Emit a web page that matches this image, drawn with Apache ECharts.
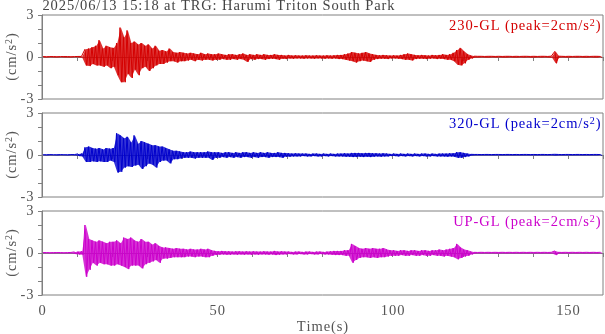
<!DOCTYPE html>
<html>
<head>
<meta charset="utf-8">
<script src="https://cdn.jsdelivr.net/npm/echarts@6/dist/echarts.min.js"></script>
<style>
  html, body { margin: 0; padding: 0; background: #fff; }
  #div_chart { width: 605px; height: 334px; }
</style>
</head>
<body>
<div id="div_chart"></div>
<script>
"use strict";

// envelope: per 1 s bin (t = 0..159), max and min in cm/s^2
const title_text = "2025/06/13 15:18 at TRG: Harumi Triton South Park";
const channel_names = ["230-GL", "320-GL", "UP-GL"];
const channel_peaks = [2, 2, 2];
const x_tick_labels = [0, 50, 100, 150];
const y_tick_labels = [-3, 0, 3];

const red_up = [
  0.03, 0.02, 0.03, 0.03, 0.02, 0.03, 0.03, 0.03, 0.02, 0.03,
  0.04, 0.04, 0.55, 0.6, 0.7, 0.8, 1.2, 0.6, 0.8, 0.7,
  0.65, 1.0, 2.1, 1.4, 1.9, 1.0, 1.1, 0.9, 1.0, 0.8,
  0.9, 0.6, 0.8, 0.45, 0.5, 0.4, 0.6, 0.35, 0.3, 0.35,
  0.3, 0.25, 0.3, 0.25, 0.2, 0.3, 0.2, 0.25, 0.2, 0.2,
  0.25, 0.2, 0.15, 0.2, 0.2, 0.15, 0.2, 0.25, 0.15, 0.2,
  0.15, 0.2, 0.15, 0.2, 0.15, 0.15, 0.2, 0.15, 0.15, 0.1,
  0.15, 0.1, 0.12, 0.1, 0.1, 0.12, 0.1, 0.1, 0.12, 0.1,
  0.1, 0.12, 0.1, 0.12, 0.15, 0.15, 0.2, 0.25, 0.35, 0.3,
  0.25, 0.3, 0.35, 0.25, 0.2, 0.15, 0.12, 0.15, 0.12, 0.1,
  0.12, 0.1, 0.15, 0.2, 0.25, 0.2, 0.15, 0.12, 0.15, 0.12,
  0.1, 0.15, 0.12, 0.15, 0.2, 0.15, 0.2, 0.3, 0.5, 0.65,
  0.4, 0.2, 0.1, 0.06, 0.05, 0.05, 0.04, 0.05, 0.05, 0.04,
  0.05, 0.04, 0.05, 0.05, 0.04, 0.05, 0.04, 0.05, 0.05, 0.04,
  0.05, 0.04, 0.05, 0.05, 0.04, 0.06, 0.4, 0.06, 0.05, 0.04,
  0.05, 0.04, 0.05, 0.05, 0.04, 0.05, 0.04, 0.05, 0.05, 0.04
];
const red_lo = [
  -0.03, -0.03, -0.02, -0.03, -0.03, -0.02, -0.03, -0.03, -0.03, -0.02,
  -0.04, -0.05, -0.6, -0.65, -0.5, -0.6, -0.6, -0.7, -0.6, -0.8,
  -0.7, -1.3, -1.8, -1.8, -1.2, -1.5, -0.9, -1.3, -0.8, -0.7,
  -1.0, -0.8, -0.6, -0.5, -0.5, -0.4, -0.3, -0.3, -0.4, -0.3,
  -0.3, -0.25, -0.2, -0.3, -0.2, -0.25, -0.2, -0.2, -0.25, -0.2,
  -0.2, -0.15, -0.2, -0.2, -0.15, -0.2, -0.15, -0.2, -0.35, -0.15,
  -0.2, -0.15, -0.15, -0.2, -0.15, -0.12, -0.15, -0.2, -0.12, -0.15,
  -0.1, -0.12, -0.1, -0.1, -0.12, -0.1, -0.1, -0.12, -0.1, -0.1,
  -0.12, -0.1, -0.12, -0.1, -0.15, -0.15, -0.2, -0.25, -0.3, -0.4,
  -0.3, -0.25, -0.3, -0.35, -0.2, -0.15, -0.12, -0.12, -0.15, -0.1,
  -0.1, -0.12, -0.15, -0.2, -0.2, -0.25, -0.15, -0.12, -0.12, -0.15,
  -0.12, -0.1, -0.15, -0.12, -0.15, -0.2, -0.2, -0.3, -0.55, -0.6,
  -0.45, -0.2, -0.1, -0.05, -0.05, -0.04, -0.05, -0.05, -0.04, -0.05,
  -0.04, -0.05, -0.05, -0.04, -0.05, -0.05, -0.04, -0.05, -0.04, -0.05,
  -0.05, -0.04, -0.05, -0.04, -0.05, -0.05, -0.45, -0.05, -0.04, -0.05,
  -0.05, -0.04, -0.05, -0.04, -0.05, -0.05, -0.04, -0.05, -0.05, -0.04
];

const blue_up = [
  0.02, 0.02, 0.03, 0.02, 0.02, 0.03, 0.02, 0.02, 0.03, 0.03,
  0.08, 0.1, 0.55, 0.6, 0.5, 0.45, 0.5, 0.4, 0.5, 0.45,
  0.5, 1.55, 1.4, 1.2, 1.3, 0.9, 1.4, 0.8, 1.0, 0.9,
  0.8, 0.7, 0.7, 0.6, 0.6, 0.5, 0.4, 0.3, 0.3, 0.25,
  0.2, 0.2, 0.25, 0.2, 0.2, 0.2, 0.2, 0.25, 0.2, 0.2,
  0.2, 0.15, 0.2, 0.2, 0.15, 0.2, 0.15, 0.2, 0.2, 0.15,
  0.2, 0.15, 0.2, 0.15, 0.2, 0.15, 0.15, 0.2, 0.15, 0.15,
  0.12, 0.1, 0.12, 0.1, 0.1, 0.1, 0.08, 0.1, 0.1, 0.08,
  0.1, 0.08, 0.1, 0.08, 0.1, 0.1, 0.12, 0.1, 0.15, 0.15,
  0.15, 0.12, 0.15, 0.15, 0.12, 0.12, 0.1, 0.12, 0.1, 0.08,
  0.1, 0.08, 0.1, 0.08, 0.1, 0.08, 0.1, 0.08, 0.1, 0.1,
  0.08, 0.1, 0.08, 0.1, 0.1, 0.1, 0.12, 0.12, 0.2, 0.2,
  0.15, 0.1, 0.05, 0.04, 0.04, 0.03, 0.04, 0.04, 0.03, 0.04,
  0.04, 0.03, 0.04, 0.04, 0.03, 0.04, 0.03, 0.04, 0.04, 0.03,
  0.04, 0.03, 0.04, 0.04, 0.03, 0.04, 0.05, 0.04, 0.03, 0.04,
  0.04, 0.03, 0.04, 0.04, 0.03, 0.04, 0.03, 0.04, 0.04, 0.03
];
const blue_lo = [
  -0.02, -0.03, -0.02, -0.02, -0.03, -0.02, -0.02, -0.03, -0.02, -0.03,
  -0.08, -0.1, -0.5, -0.5, -0.45, -0.5, -0.45, -0.5, -0.5, -0.4,
  -0.5, -1.25, -1.2, -0.9, -0.8, -0.85, -0.75, -0.7, -1.0, -0.8,
  -0.6, -0.7, -0.9, -0.5, -0.4, -0.4, -0.6, -0.3, -0.3, -0.25,
  -0.2, -0.2, -0.2, -0.25, -0.2, -0.2, -0.2, -0.2, -0.35, -0.2,
  -0.2, -0.15, -0.2, -0.15, -0.2, -0.15, -0.2, -0.15, -0.15, -0.2,
  -0.15, -0.2, -0.15, -0.15, -0.2, -0.15, -0.15, -0.15, -0.2, -0.12,
  -0.12, -0.1, -0.1, -0.1, -0.08, -0.1, -0.1, -0.08, -0.1, -0.1,
  -0.08, -0.1, -0.08, -0.1, -0.1, -0.1, -0.12, -0.12, -0.15, -0.15,
  -0.12, -0.15, -0.12, -0.15, -0.12, -0.1, -0.12, -0.1, -0.1, -0.08,
  -0.08, -0.1, -0.08, -0.1, -0.08, -0.1, -0.08, -0.1, -0.08, -0.1,
  -0.1, -0.08, -0.1, -0.1, -0.1, -0.12, -0.1, -0.12, -0.2, -0.2,
  -0.15, -0.1, -0.05, -0.04, -0.04, -0.03, -0.04, -0.04, -0.03, -0.04,
  -0.03, -0.04, -0.04, -0.03, -0.04, -0.03, -0.04, -0.04, -0.03, -0.04,
  -0.04, -0.03, -0.04, -0.04, -0.03, -0.04, -0.05, -0.04, -0.03, -0.04,
  -0.03, -0.04, -0.04, -0.03, -0.04, -0.03, -0.04, -0.04, -0.03, -0.04
];

const magenta_up = [
  0.03, 0.03, 0.02, 0.03, 0.03, 0.03, 0.02, 0.03, 0.04, 0.08,
  0.1, 0.12, 2.0, 1.0, 0.9, 0.8, 0.9, 0.8, 0.7, 0.8,
  0.8, 0.9, 0.7, 1.1, 1.0, 1.1, 0.9, 0.8, 1.0, 0.8,
  0.8, 0.6, 0.7, 0.5, 0.4, 0.4, 0.35, 0.3, 0.35, 0.3,
  0.3, 0.25, 0.3, 0.25, 0.25, 0.3, 0.25, 0.3, 0.2, 0.15,
  0.12, 0.15, 0.12, 0.12, 0.1, 0.12, 0.12, 0.1, 0.12, 0.1,
  0.12, 0.1, 0.1, 0.12, 0.1, 0.1, 0.15, 0.1, 0.12, 0.1,
  0.1, 0.08, 0.1, 0.1, 0.08, 0.1, 0.1, 0.08, 0.1, 0.1,
  0.08, 0.1, 0.12, 0.15, 0.15, 0.15, 0.2, 0.2, 0.65, 0.5,
  0.35, 0.3, 0.35, 0.3, 0.35, 0.3, 0.3, 0.35, 0.25, 0.2,
  0.2, 0.15, 0.2, 0.2, 0.15, 0.2, 0.2, 0.15, 0.2, 0.2,
  0.15, 0.2, 0.2, 0.25, 0.2, 0.25, 0.3, 0.35, 0.65, 0.4,
  0.25, 0.2, 0.1, 0.05, 0.04, 0.05, 0.04, 0.05, 0.04, 0.05,
  0.04, 0.05, 0.04, 0.05, 0.04, 0.05, 0.04, 0.05, 0.04, 0.05,
  0.04, 0.05, 0.04, 0.05, 0.04, 0.05, 0.15, 0.05, 0.04, 0.05,
  0.04, 0.05, 0.04, 0.05, 0.04, 0.05, 0.04, 0.05, 0.04, 0.05
];
const magenta_lo = [
  -0.03, -0.02, -0.03, -0.03, -0.02, -0.03, -0.03, -0.03, -0.04, -0.08,
  -0.1, -0.12, -1.7, -1.2, -0.7, -0.9, -0.7, -0.8, -0.8, -0.9,
  -0.9, -0.8, -0.9, -1.0, -1.15, -0.9, -0.9, -0.9, -1.1, -0.8,
  -0.7, -0.6, -0.5, -0.7, -0.4, -0.4, -0.35, -0.3, -0.3, -0.3,
  -0.3, -0.25, -0.25, -0.3, -0.25, -0.25, -0.3, -0.3, -0.2, -0.15,
  -0.12, -0.1, -0.12, -0.12, -0.1, -0.12, -0.1, -0.12, -0.1, -0.12,
  -0.1, -0.12, -0.1, -0.1, -0.12, -0.1, -0.15, -0.12, -0.1, -0.1,
  -0.08, -0.1, -0.1, -0.08, -0.1, -0.1, -0.08, -0.1, -0.1, -0.08,
  -0.1, -0.1, -0.12, -0.15, -0.15, -0.15, -0.2, -0.2, -0.7, -0.5,
  -0.35, -0.3, -0.3, -0.35, -0.3, -0.35, -0.3, -0.3, -0.25, -0.2,
  -0.2, -0.2, -0.15, -0.2, -0.2, -0.15, -0.2, -0.2, -0.15, -0.2,
  -0.2, -0.15, -0.2, -0.2, -0.25, -0.2, -0.25, -0.3, -0.45, -0.35,
  -0.25, -0.2, -0.1, -0.05, -0.04, -0.05, -0.04, -0.05, -0.04, -0.05,
  -0.05, -0.04, -0.05, -0.04, -0.05, -0.04, -0.05, -0.04, -0.05, -0.04,
  -0.05, -0.04, -0.05, -0.04, -0.05, -0.04, -0.15, -0.04, -0.05, -0.04,
  -0.05, -0.04, -0.05, -0.04, -0.05, -0.04, -0.05, -0.04, -0.05, -0.04
];

const channel_colors = ["#d40000", "#0000cc", "#cc00cc"];
const channel_up = [red_up, blue_up, magenta_up];
const channel_lo = [red_lo, blue_lo, magenta_lo];

const font = "Liberation Serif";
const font_size = 14.5;
const track = 0.9; // the original text is set loosely, add a little space after each glyph
const axis_color = "#808080";
const text_color = "#555555";
const panel_tops = [15, 113, 211];
const panel_height = 84;

// max then min inside each 1 s bin, so the trace swings like the record
function zigzag(up, lo) {
  const data = [];
  for (let i = 0; i < up.length; i++) {
    data.push([i + 0.25, up[i]]);
    data.push([i + 0.75, lo[i]]);
  }
  return data;
}

// one edge of the dense band, filled down (or up) to zero
function edge(vals) {
  return vals.map((v, i) => [i + 0.5, v]);
}

//
// loosely tracked text: one rich token per character
//
const measure_ctx = document.createElement("canvas").getContext("2d");
function glyph_width(ch, size) {
  measure_ctx.font = size + "px '" + font + "'";
  return measure_ctx.measureText(ch).width;
}
const all_chars = Array.from(new Set((title_text + channel_names.join("") +
  " (peak=cm/s)0123456789-Time").split("")));

function tracked_rich(color) {
  const rich = {};
  for (const ch of all_chars) {
    rich["c" + ch.charCodeAt(0)] = {
      fontFamily: font, fontSize: font_size, fontWeight: "normal", color: color,
      width: glyph_width(ch, font_size) + track, align: "center",
      verticalAlign: "bottom", lineHeight: 16
    };
  }
  rich.sup = {
    fontFamily: font, fontSize: 10, fontWeight: "normal", color: color,
    width: glyph_width("2", 10) + track, align: "center",
    verticalAlign: "bottom", lineHeight: 16, padding: [0, 0, 6, 0]
  };
  return rich;
}
function tracked(str) {
  return str.split("").map(ch => "{c" + ch.charCodeAt(0) + "|" + ch + "}").join("");
}
function with_sup(str, sup, tail) {
  return tracked(str) + "{sup|" + sup + "}" + tracked(tail);
}

const html_div_chart = document.getElementById("div_chart");
const chart = echarts.init(html_div_chart);

const grids = [];
const x_axes = [];
const y_axes = [];
const series = [];
const titles = [{
  text: tracked(title_text),
  left: 42,
  top: -2,
  padding: 0,
  textStyle: { fontWeight: "normal", rich: tracked_rich("#444444") }
}];

for (let i = 0; i < 3; i++) {
  grids.push({
    left: 42,
    width: 561,
    top: panel_tops[i],
    height: panel_height,
    containLabel: false,
    outerBoundsMode: "none",
    show: true,
    borderColor: axis_color,
    borderWidth: 1
  });
  x_axes.push({
    type: "value",
    gridIndex: i,
    min: 0,
    max: 160,
    interval: 10,
    axisLine: { show: true, lineStyle: { color: axis_color } },
    axisTick: { show: true, inside: false, length: 4, lineStyle: { color: axis_color } },
    axisLabel: {
      show: i === 2,
      margin: 8,
      rich: tracked_rich(text_color),
      formatter: v => (x_tick_labels.indexOf(v) >= 0 ? tracked(String(v)) : "")
    },
    splitLine: { show: false },
    name: i === 2 ? tracked("Time(s)") : "",
    nameLocation: "middle",
    nameGap: 21,
    nameTextStyle: { rich: tracked_rich(text_color) }
  });
  y_axes.push({
    type: "value",
    gridIndex: i,
    min: -3,
    max: 3,
    interval: 3,
    axisLine: { show: true, lineStyle: { color: axis_color } },
    axisTick: { show: true, length: 4, lineStyle: { color: axis_color } },
    minorTick: { show: true, splitNumber: 3, length: 4, lineStyle: { color: axis_color } },
    axisLabel: {
      margin: 8,
      align: "right",
      rich: tracked_rich(text_color),
      formatter: v => (y_tick_labels.indexOf(v) >= 0 ? tracked(String(v)) : "")
    },
    splitLine: { show: false },
    name: with_sup("(cm/s", "2", ")"),
    nameLocation: "middle",
    nameGap: 22,
    nameMoveOverlap: false,
    nameTextStyle: { rich: tracked_rich(text_color) }
  });
  for (const vals of [channel_up[i], channel_lo[i]]) {
    series.push({
      type: "line",
      xAxisIndex: i,
      yAxisIndex: i,
      data: edge(vals),
      symbol: "none",
      lineStyle: { width: 0, opacity: 0 },
      areaStyle: { color: channel_colors[i], opacity: 0.8, origin: 0 },
      silent: true
    });
  }
  series.push({
    type: "line",
    xAxisIndex: i,
    yAxisIndex: i,
    data: zigzag(channel_up[i], channel_lo[i]),
    symbol: "none",
    lineStyle: { color: channel_colors[i], width: 1 },
    silent: true
  });
  titles.push({
    text: with_sup(channel_names[i] + " (peak=" + channel_peaks[i] + "cm/s", "2", ")"),
    right: 4,
    top: panel_tops[i] + 3,
    padding: 0,
    textStyle: { fontWeight: "normal", rich: tracked_rich(channel_colors[i]) }
  });
}

chart.setOption({
  animation: false,
  title: titles,
  grid: grids,
  xAxis: x_axes,
  yAxis: y_axes,
  series: series
});
</script>
</body>
</html>
